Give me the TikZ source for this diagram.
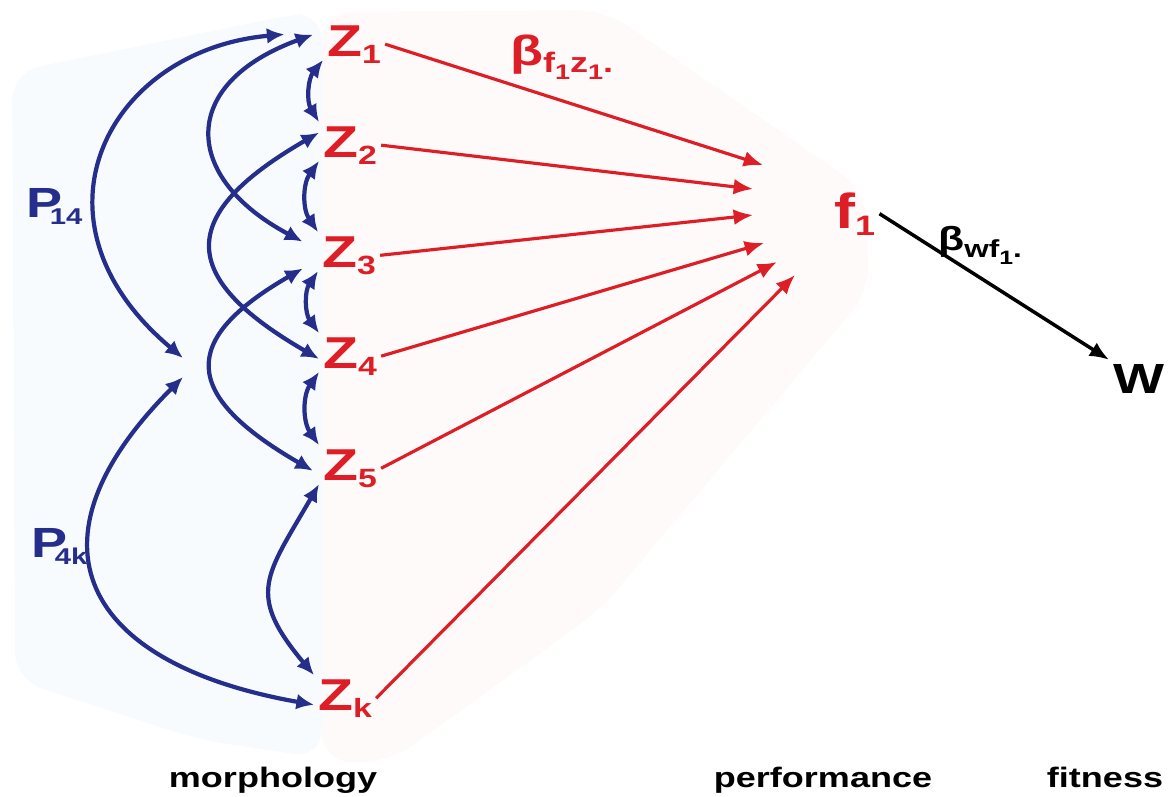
\documentclass[tikz,border=0pt]{standalone}
\usepackage{fontspec}
\newfontfamily\figfont[FakeStretch=1.28]{Liberation Sans}
\usepackage{xcolor}
\usepackage{tikz}
\usetikzlibrary{arrows.meta, calc}

\definecolor{pathblue}{RGB}{38,46,140}
\definecolor{pathred}{RGB}{222,30,38}
\definecolor{morphbg}{RGB}{248,251,254}
\definecolor{perfbg}{RGB}{254,250,249}
\newcommand{\lowsub}[2]{\raisebox{-2pt}{\fontsize{#1}{#1}\selectfont #2}}

\begin{document}
\begin{tikzpicture}[
    x=0.01cm, y=-0.01cm,
    zvar/.style={anchor=base west, inner sep=1pt, text=pathred, font=\figfont\bfseries\fontsize{12.7}{14}\selectfont},
    coef/.style={anchor=base west, inner sep=1pt, font=\figfont\bfseries\fontsize{12}{14}\selectfont},
    category/.style={anchor=base, font=\figfont\bfseries\fontsize{8}{9}\selectfont},
    corr/.style={pathblue, line width=1.2pt, <->, >={Latex[length=5pt,width=4.5pt]}},
    effect/.style={pathred, line width=0.9pt, ->, >={Latex[length=5.5pt,width=4.5pt]}},
    selection/.style={black, line width=1pt, ->, >={Latex[length=5.5pt,width=4.5pt]}}
]
\useasboundingbox (0,0) rectangle (1174,796);
% faint panels
\fill[morphbg, rounded corners=8pt] (12,72) -- (290,15) -- (322,12) -- (322,758) -- (200,740) -- (15,680) -- cycle;
\fill[perfbg, rounded corners=8pt] (322,12) -- (605,10) -- (865,190) -- (870,290) -- (600,610) -- (390,762) -- (322,762) -- cycle;

% traits
\node[zvar] (z1) at (323,56) {Z\lowsub{7.5}{1}};
\node[zvar] (z2) at (319,157) {Z\lowsub{7.5}{2}};
\node[zvar] (z3) at (318,267) {Z\lowsub{7.5}{3}};
\node[zvar] (z4) at (319,368) {Z\lowsub{7.5}{4}};
\node[zvar] (z5) at (319,480) {Z\lowsub{7.5}{5}};
\node[zvar] (zk) at (314,710) {Z\lowsub{7.5}{k}};
\node[zvar, font=\figfont\bfseries\fontsize{14}{16}\selectfont] (f1) at (830,228) {f\lowsub{8}{1}};
\node[coef] (w) at (1109,393) {W};

% coefficients
\node[coef, text=pathred] (bfz) at (506,65) {β\lowsub{8}{f\lowsub{6}{1}z\lowsub{6}{1}.}};
\node[coef, font=\figfont\bfseries\fontsize{9.5}{11}\selectfont] (bwf) at (934,250) {β\lowsub{7}{wf\lowsub{5.5}{1}.}};
\node[coef, text=pathblue, font=\figfont\bfseries\fontsize{12}{14}\selectfont] (p14) at (22,217) {P\kern-3.5pt\lowsub{6.5}{14}};
\node[coef, text=pathblue, font=\figfont\bfseries\fontsize{12}{14}\selectfont] (p4k) at (27,557) {P\kern-3.5pt\lowsub{6.5}{4k}};

\coordinate (p14end) at (183,358);
\coordinate (p4kend) at (183,377);
\coordinate (in1) at (763,165);
\coordinate (in2) at (753,189);
\coordinate (in3) at (753,215);
\coordinate (in4) at (764,243);
\coordinate (in5) at (777,262);
\coordinate (in6) at (795,275);

% correlations
\draw[corr] (z1.207) to[bend right=35] (z2.north west);
\draw[corr] (z2.207) to[bend right=35] (z3.north west);
\draw[corr] (z3.207) to[bend right=35] (z4.north west);
\draw[corr] (z4.207) to[bend right=35] (z5.north west);
\draw[corr, shorten <=3pt, shorten >=5pt] (z1.157) to[out=200, in=152, looseness=1.8] (z3.170);
\draw[corr] (z2.158) to[out=210, in=150, looseness=1.86] (z4.185);
\draw[corr, shorten <=5pt, shorten >=2pt] (z3.188) to[out=210, in=150, looseness=1.9] (z5.191);
\draw[corr] (z5.207) to[out=240, in=130, looseness=1.42] (zk.north west);
\draw[corr, shorten <=11pt] (z1.157) to[out=185, in=140, looseness=1.55] (p14end);
\draw[corr] (p4kend) to[out=225, in=170, looseness=1.7] (zk.192);

% effects on performance
\draw[effect] (z1.east) -- (in1);
\draw[effect] (z2.east) -- (in2);
\draw[effect] (z3.east) -- (in3);
\draw[effect] (z4.east) -- (in4);
\draw[effect] (z5.east) -- (in5);
\draw[effect] (zk.east) -- (in6);
\draw[selection] (f1.east) -- (w.north west);

\node[category] (morph) at (273,787) {morphology};
\node[category] (perf) at (823,787) {performance};
\node[category] (fitn) at (1105,787) {fitness};
\end{tikzpicture}
\end{document}
